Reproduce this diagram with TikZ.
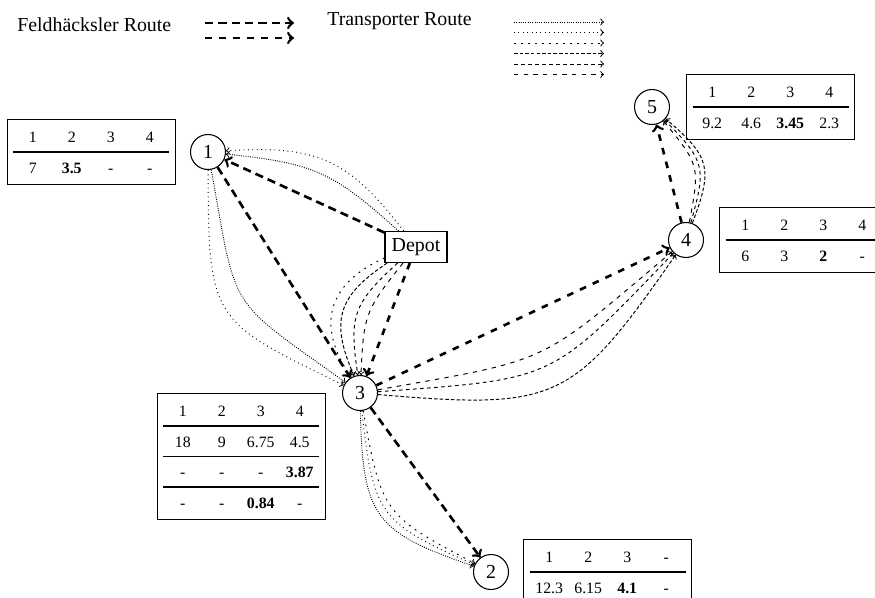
\documentclass[tikz,border=0pt]{standalone}
\usepackage{fontspec}
\setmainfont{Liberation Serif}
\usepackage{array}
\usepackage{tikz}
\usetikzlibrary{positioning}
\newcolumntype{C}{>{\centering\arraybackslash}p{0.78cm}}
\setlength{\tabcolsep}{0pt}
\setlength{\arrayrulewidth}{0.9pt}
\renewcommand{\arraystretch}{1.53}

\begin{document}
\begin{tikzpicture}[
    font=\fontsize{11.3}{13.5}\selectfont,
    knoten/.style={draw, circle, line width=0.6pt, minimum size=0.7cm, inner sep=0pt},
    lager/.style={draw, line width=0.6pt, minimum width=1.24cm, minimum height=0.62cm, inner sep=0pt},
    tabelle/.style={draw, line width=0.8pt, inner xsep=0.12cm, inner ysep=0.05cm, font=\fontsize{9}{10.8}\selectfont},
    fh1/.style={->, line width=1.5pt, dash pattern=on 4.7pt off 2.9pt},
    fh2/.style={->, line width=1.5pt, dash pattern=on 3.8pt off 4.2pt},
    trans/.style={->, line width=0.55pt},
    tp1/.style={trans, dash pattern=on 0.5pt off 0.8pt},
    tp2/.style={trans, dash pattern=on 0.5pt off 2pt},
    tp3/.style={trans, dash pattern=on 1pt off 3pt},
    tp4/.style={trans, dash pattern=on 2pt off 1.2pt},
    tp5/.style={trans, dash pattern=on 2pt off 2pt},
    tp6/.style={trans, dash pattern=on 2.5pt off 3pt}
]
\useasboundingbox (0,0) rectangle (17.5,11.94);

\node[anchor=west, inner sep=0pt] (fhtext) at (0.34,11.44) {Feldhäcksler Route};
\coordinate (fha) at (4.10,11.48);
\coordinate (fhb) at (5.88,11.48);
\coordinate (fhc) at (4.10,11.18);
\coordinate (fhd) at (5.88,11.18);
\draw[fh1] (fha) -- (fhb);
\draw[fh2] (fhc) -- (fhd);
\node[anchor=west, inner sep=0pt] (trtext) at (6.54,11.52) {Transporter Route};
\foreach \s [count=\i] in {tp1,tp2,tp3,tp4,tp5,tp6} {
    \coordinate (ts\i) at (10.28,11.71-0.21*\i);
    \coordinate (te\i) at (12.08,11.71-0.21*\i);
    \draw[\s] (ts\i) -- (te\i);
}

\node[knoten] (n1) at (4.16,8.90) {1};
\node[lager] (depot) at (8.32,7.00) {Depot};
\node[knoten] (n3) at (7.20,4.08) {3};
\node[knoten] (n4) at (13.72,7.14) {4};
\node[knoten] (n5) at (13.04,9.80) {5};
\node[knoten] (n2) at (9.82,0.50) {2};

\node[tabelle, left=0.28cm of n1] (tab1) {\begin{tabular}{CCCC}
1 & 2 & 3 & 4\\ \hline
7 & \textbf{3.5} & - & -
\end{tabular}};
\node[tabelle, right=0.32cm of n5] (tab5) {\begin{tabular}{CCCC}
1 & 2 & 3 & 4\\ \hline
9.2 & 4.6 & \textbf{3.45} & 2.3
\end{tabular}};
\node[tabelle, right=0.3cm of n4] (tab4) {\begin{tabular}{CCCC}
1 & 2 & 3 & 4\\ \hline
6 & 3 & \textbf{2} & -
\end{tabular}};
\node[tabelle, below left=0cm and 0.32cm of n3.west] (tab3) {\begin{tabular}{CCCC}
1 & 2 & 3 & 4\\ \hline
18 & 9 & 6.75 & 4.5\\ \hline
- & - & - & \textbf{3.87}\\ \hline
- & - & \textbf{0.84} & -
\end{tabular}};
\node[tabelle, right=0.28cm of n2] (tab2) {\begin{tabular}{CCCC}
1 & 2 & 3 & -\\ \hline
12.3 & 6.15 & \textbf{4.1} & -
\end{tabular}};

\draw[fh1] (depot) -- (n1);
\draw[fh1] (n1) -- (n3);
\draw[fh1] (n3) -- (n2);
\draw[fh2] (depot) -- (n3);
\draw[fh2] (n3) -- (n4);
\draw[fh2] (n4) -- (n5);

\draw[tp2] (depot) to[bend right=28, looseness=1.2] (n1);
\draw[tp1] (depot) to[bend right=18, looseness=1.2] (n1);
\draw[tp2] (n1) to[bend right=32, looseness=1.5] (n3);
\draw[tp1] (n1) to[bend right=22, looseness=1.5] (n3);
\draw[tp3] (depot) to[bend right=50, looseness=1.3] (n3);
\draw[tp4] (depot) to[bend right=40, looseness=1.3] (n3);
\draw[tp5] (depot) to[bend right=28, looseness=1.3] (n3);
\draw[tp6] (depot) to[bend right=18, looseness=1.3] (n3);
\draw[tp4] (n3) to[bend right=30, looseness=1.4] (n4);
\draw[tp5] (n3) to[bend right=21, looseness=1.4] (n4);
\draw[tp6] (n3) to[bend right=15, looseness=1.4] (n4);
\draw[tp4] (n4) to[bend right=35, looseness=1.4] (n5);
\draw[tp5] (n4) to[bend right=30, looseness=1.4] (n5);
\draw[tp6] (n4) to[bend right=25, looseness=1.4] (n5);
\draw[tp1] (n3) to[bend right=35, looseness=1.4] (n2);
\draw[tp2] (n3) to[bend right=30, looseness=1.4] (n2);
\draw[tp3] (n3) to[bend right=26, looseness=1.4] (n2);
\end{tikzpicture}
\end{document}
